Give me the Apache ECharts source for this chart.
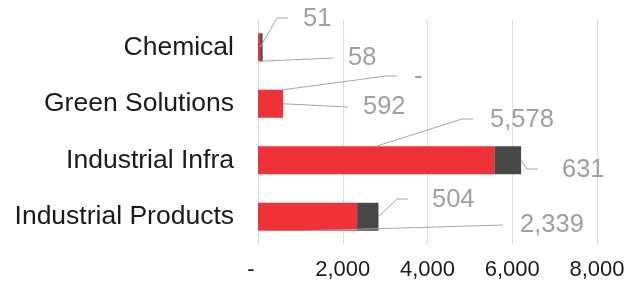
<!DOCTYPE html>
<html>
<head>
<meta charset="utf-8">
<script src="https://cdn.jsdelivr.net/npm/echarts@6/dist/echarts.min.js"></script>
<style>
html,body{margin:0;padding:0;background:#fff;}
#chart{width:628px;height:285px;}
</style>
</head>
<body>
<div id="chart"></div>
<script>
const categories = ['Chemical', 'Green Solutions', 'Industrial Infra', 'Industrial Products'];
const seriesA = [51, 592, 5578, 2339];
const seriesB = [58, 0, 631, 504];
const xTicks = [0, 2000, 4000, 6000, 8000];

const FONT = 'Arial, "Liberation Sans", sans-serif';
const BAR_W = 28;
function fmt(v) { return v === 0 ? '-' : Number(v).toLocaleString('en-US'); }

// label placement (layout/style): label left x, center y, anchor fraction on bar rect, bend offset
const labelPos = [
  [ // series A (red)
    {lx: 303, ly: 19, fx: 1, fy: 0.5, bend: 26},
    {lx: 363, ly: 107, fx: 1, fy: 0.5, bend: null, gap: 15},
    {lx: 490, ly: 120, fx: 0.5, fy: 0, bend: 28},
    {lx: 520, ly: 225, fx: 0.5, fy: 1, bend: null, gap: 17}
  ],
  [ // series B (dark)
    {lx: 348, ly: 58, fx: 0, fy: 1, bend: null, gap: 15},
    {lx: 414, ly: 77, fx: 0, fy: 0, bend: 28},
    {lx: 562, ly: 170, fx: 1, fy: 0.5, bend: 35},
    {lx: 432, ly: 200, fx: 1, fy: 0.5, bend: 35}
  ]
];

function layoutFn(params) {
  const p = labelPos[params.seriesIndex][params.dataIndex];
  return {x: p.lx, y: p.ly, align: 'left', verticalAlign: 'middle'};
}

const labelStyle = {
  show: true,
  position: 'inside',
  color: '#A0A0A0',
  fontSize: 25.5,
  fontFamily: FONT,
  formatter: function (p) { return fmt(p.value); }
};

function leaderPoints(p, rx, ry, rw, rh) {
  const sx = rx + p.fx * rw;
  const sy = ry + p.fy * rh;
  if (p.bend != null) {
    const bx = p.lx - p.bend;
    return [[sx, sy], [bx, p.ly - 1], [bx + 11, p.ly - 1]];
  }
  return [[sx, sy], [p.lx - p.gap, p.ly]];
}

function renderLeaders(params, api) {
  const idx = params.dataIndex;
  const c0 = api.coord([0, idx]);
  const cA = api.coord([seriesA[idx], idx]);
  const cB = api.coord([seriesA[idx] + seriesB[idx], idx]);
  const top = c0[1] - BAR_W / 2;
  const rects = [
    [c0[0], top, cA[0] - c0[0], BAR_W],
    [cA[0], top, cB[0] - cA[0], BAR_W]
  ];
  const children = [];
  for (let s = 0; s < 2; s++) {
    const r = rects[s];
    children.push({
      type: 'polyline',
      shape: {points: leaderPoints(labelPos[s][idx], r[0], r[1], r[2], r[3])},
      style: {stroke: '#A6A6A6', lineWidth: 1, fill: null}
    });
  }
  return {type: 'group', children: children};
}

const chart = echarts.init(document.getElementById('chart'), null, {renderer: 'canvas'});
chart.setOption({
  animation: false,
  backgroundColor: '#fff',
  grid: {left: 258, right: 31, top: 19, bottom: 40, containLabel: false},
  xAxis: {
    type: 'value',
    min: xTicks[0],
    max: xTicks[xTicks.length - 1],
    interval: xTicks[1] - xTicks[0],
    axisLine: {show: false},
    axisTick: {show: false},
    splitLine: {show: true, lineStyle: {color: '#D9DFE9', width: 1}},
    axisLabel: {
      color: '#1A1A1A', fontSize: 22, fontFamily: FONT, margin: 14,
      formatter: function (v) { return v === 0 ? '{z|-}' : fmt(v); },
      rich: {z: {color: '#1A1A1A', fontSize: 22, fontFamily: FONT, padding: [0, 14, 0, 0]}}
    }
  },
  yAxis: {
    type: 'category',
    data: categories,
    inverse: true,
    axisLine: {show: false},
    axisTick: {show: false},
    axisLabel: {color: '#1A1A1A', fontSize: 26.5, fontFamily: FONT, margin: 24}
  },
  series: [
    {
      type: 'bar', stack: 'total', data: seriesA, barWidth: BAR_W,
      itemStyle: {color: '#EE3238'},
      label: labelStyle, labelLayout: layoutFn
    },
    {
      type: 'bar', stack: 'total', data: seriesB, barWidth: BAR_W,
      itemStyle: {color: '#474747'},
      label: labelStyle, labelLayout: layoutFn
    },
    {
      type: 'custom', renderItem: renderLeaders, z: 5, silent: true,
      data: categories.map(function (c, i) { return [0, i]; }),
      encode: {x: 0, y: 1}
    }
  ]
});
</script>
</body>
</html>
